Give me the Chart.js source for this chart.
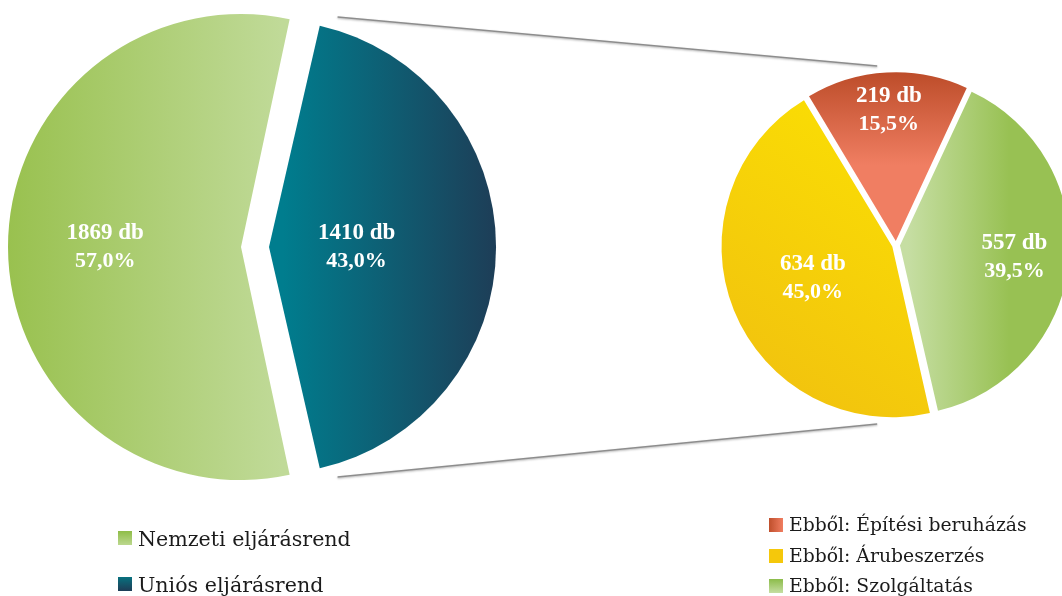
<!DOCTYPE html>
<html>
<head>
<meta charset="utf-8">
<script src="https://cdn.jsdelivr.net/npm/chart.js@4.4.0/dist/chart.umd.min.js"></script>
<style>
  html, body { margin: 0; padding: 0; background: #fff; overflow: hidden; }
  #wrap { position: relative; width: 1062px; height: 596px; }
  #wrap canvas { position: absolute; left: 0; top: 0; }
  .leg { position: absolute; white-space: nowrap; font-family: "DejaVu Serif", serif; color: #1b1b1b; }
  .box { position: absolute; }
</style>
</head>
<body>
<div id="wrap">
  <canvas id="mainPie" width="1062" height="596"></canvas>
  <canvas id="subPie" width="1062" height="596"></canvas>
</div>
<script>
var mainLabels = ["Nemzeti eljárásrend", "Uniós eljárásrend"];
var mainValues = [1869, 1410];
var subLabels = ["Ebből: Építési beruházás", "Ebből: Szolgáltatás", "Ebből: Árubeszerzés"];
var subValues = [219, 557, 634];
var subLegendOrder = [0, 2, 1];

var MAIN_R = 219, MAIN_OFFSET = 56;
var SUB_R = 168, SUB_OFFSET = 16;

function sum(arr) { return arr.reduce(function (a, b) { return a + b; }, 0); }

function pct(v, total) {
    return (v / total * 100).toFixed(1).replace('.', ',') + '%';
}

function mainFill(c) {
    var chart = c.chart, a = chart.chartArea;
    if (!a || c.dataIndex === undefined) return '#9cc255';
    var cx = (a.left + a.right) / 2;
    var g;
    if (c.dataIndex === 0) {
        g = chart.ctx.createLinearGradient(cx - MAIN_R - 14, 0, cx + 40, 0);
        g.addColorStop(0, '#99c14f');
        g.addColorStop(1, '#c0da98');
    } else {
        g = chart.ctx.createLinearGradient(cx + 14, 0, cx + MAIN_R + 20, 0);
        g.addColorStop(0, '#007d8e');
        g.addColorStop(1, '#1f3a54');
    }
    return g;
}

function subFill(c) {
    var chart = c.chart, a = chart.chartArea;
    if (!a || c.dataIndex === undefined) return '#f5c80b';
    var cx = (a.left + a.right) / 2, cy = (a.top + a.bottom) / 2;
    var g;
    if (c.dataIndex === 0) {
        g = chart.ctx.createLinearGradient(0, cy - SUB_R, 0, cy - SUB_R * 0.45);
        g.addColorStop(0, '#bd4d2a');
        g.addColorStop(1, '#f07e62');
    } else if (c.dataIndex === 1) {
        g = chart.ctx.createLinearGradient(cx + 8, 0, cx + SUB_R * 0.65, 0);
        g.addColorStop(0, '#c6dea3');
        g.addColorStop(1, '#98c153');
    } else {
        g = chart.ctx.createLinearGradient(cx, cy - SUB_R * 0.6, cx - SUB_R, cy + SUB_R * 0.8);
        g.addColorStop(0, '#fadd04');
        g.addColorStop(1, '#f1c10f');
    }
    return g;
}

// white "NNN db / xx,x%" labels inside the slices
function sliceLabels(id, values, radii, shift) {
    return {
        id: id,
        afterDatasetsDraw: function (chart) {
            var meta = chart.getDatasetMeta(0);
            var total = sum(values);
            var ctx = chart.ctx;
            ctx.save();
            ctx.fillStyle = '#fff';
            ctx.textAlign = 'center';
            ctx.textBaseline = 'middle';
            meta.data.forEach(function (arc, i) {
                var p = arc.getProps(['x', 'y', 'startAngle', 'endAngle', 'outerRadius'], true);
                var mid = (p.startAngle + p.endAngle) / 2;
                var d = shift + p.outerRadius * radii[i];
                var lx = p.x + Math.cos(mid) * d, ly = p.y + Math.sin(mid) * d;
                ctx.font = 'bold 23px "Liberation Serif"';
                ctx.fillText(values[i] + ' db', lx, ly - 14);
                ctx.font = 'bold 22px "Liberation Serif"';
                ctx.fillText(pct(values[i], total), lx, ly + 14);
            });
            ctx.restore();
        }
    };
}

var mainChart = new Chart(document.getElementById('mainPie'), {
    type: 'pie',
    data: {
        labels: mainLabels,
        datasets: [{
            data: mainValues,
            backgroundColor: mainFill,
            borderWidth: 0,
            offset: MAIN_OFFSET,
            clip: false
        }]
    },
    options: {
        responsive: false,
        animation: false,
        events: [],
        radius: MAIN_R,
        rotation: 90 + 180 * mainValues[1] / sum(mainValues),
        layout: { padding: { left: 0, top: 0, right: 552, bottom: 102 } },
        plugins: { legend: { display: false }, tooltip: { enabled: false } }
    },
    plugins: [sliceLabels('mainLabels', mainValues, [0.62, 0.40], MAIN_OFFSET / 4)]
});

// grey connector lines from the teal slice to the small pie
var connectors = {
    id: 'connectors',
    beforeDatasetsDraw: function (chart) {
        var t = mainChart.getDatasetMeta(0).data[1].getProps(['x', 'y', 'startAngle', 'endAngle', 'outerRadius'], true);
        var s = chart.getDatasetMeta(0).data[0].getProps(['x', 'y', 'outerRadius'], true);
        var mid = (t.startAngle + t.endAngle) / 2;
        var tx = t.x + Math.cos(mid) * MAIN_OFFSET / 4, ty = t.y + Math.sin(mid) * MAIN_OFFSET / 4;
        var rs = t.outerRadius + 21, re = s.outerRadius + 12;
        var tilt = 4 * Math.PI / 180, endA = 96 * Math.PI / 180;
        var pairs = [
            [t.startAngle + tilt, -endA],
            [t.endAngle - tilt, endA]
        ];
        var ctx = chart.ctx;
        ctx.save();
        ctx.strokeStyle = '#8d8d8d';
        ctx.lineWidth = 1.6;
        ctx.shadowColor = 'rgba(0,0,0,0.3)';
        ctx.shadowBlur = 2;
        ctx.shadowOffsetY = 1;
        pairs.forEach(function (pr) {
            ctx.beginPath();
            ctx.moveTo(tx + Math.cos(pr[0]) * rs, ty + Math.sin(pr[0]) * rs);
            ctx.lineTo(s.x + Math.cos(pr[1]) * re, s.y + Math.sin(pr[1]) * re);
            ctx.stroke();
        });
        ctx.restore();
    }
};

var subChart = new Chart(document.getElementById('subPie'), {
    type: 'pie',
    data: {
        labels: subLabels,
        datasets: [{
            data: subValues,
            backgroundColor: subFill,
            borderWidth: 0,
            offset: SUB_OFFSET,
            clip: false
        }]
    },
    options: {
        responsive: false,
        animation: false,
        events: [],
        radius: SUB_R,
        rotation: -31,
        layout: { padding: { left: 732, top: 70, right: 2, bottom: 176 } },
        plugins: { legend: { display: false }, tooltip: { enabled: false } }
    },
    plugins: [connectors, sliceLabels('subLabels', subValues, [0.78, 0.685, 0.51], SUB_OFFSET / 4)]
});

// legends (HTML, two separate blocks like the original)
var wrap = document.getElementById('wrap');
var mainBoxes = ['linear-gradient(#8fbd48, #bcd88f)', 'linear-gradient(#08717f, #1e3c56)'];
var subBoxes = ['linear-gradient(90deg, #bf4f2c, #f07d60)', 'linear-gradient(#8cbc4a, #c5dea2)', 'linear-gradient(#f5c80b, #f5c80b)'];

function addRow(x, y, boxBg, boxSize, text, fontSize) {
    var b = document.createElement('div');
    b.className = 'box';
    b.style.left = x + 'px';
    b.style.top = (y + 2) + 'px';
    b.style.width = boxSize + 'px';
    b.style.height = boxSize + 'px';
    b.style.background = boxBg;
    wrap.appendChild(b);
    var t = document.createElement('div');
    t.className = 'leg';
    t.style.left = (x + boxSize + 6) + 'px';
    t.style.top = y + 'px';
    t.style.fontSize = fontSize + 'px';
    t.style.lineHeight = fontSize + 'px';
    t.textContent = text;
    wrap.appendChild(t);
}

mainLabels.forEach(function (lab, i) {
    addRow(118, 529 + i * 46, mainBoxes[i], 14, lab, 20.6);
});
subLegendOrder.forEach(function (idx, k) {
    addRow(769, 516 + k * 30.5, subBoxes[idx], 14, subLabels[idx], 18.8);
});
</script>
</body>
</html>
